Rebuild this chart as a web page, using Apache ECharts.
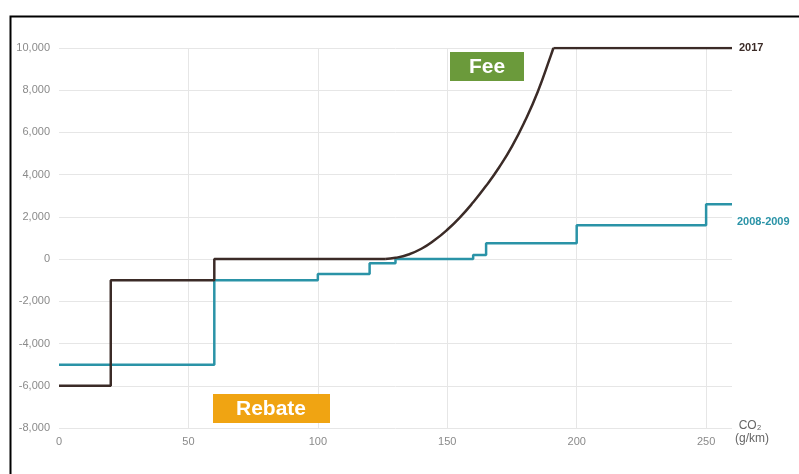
<!DOCTYPE html>
<html>
<head>
<meta charset="utf-8">
<script src="https://cdn.jsdelivr.net/npm/echarts@6/dist/echarts.min.js"></script>
<style>
html,body{margin:0;padding:0;background:#fff;}
#c{width:799px;height:474px;}
</style>
</head>
<body>
<div id="c"></div>
<script>
// Data (CO2 g/km -> fee/rebate)
const xTicks = [0, 50, 100, 150, 200, 250];
const yTicks = [-8000, -6000, -4000, -2000, 0, 2000, 4000, 6000, 8000, 10000];

const old2008X = [0, 60, 100, 120, 130, 160, 165, 200, 250, 260];
const old2008Y = [-5000, -1000, -700, -200, 0, 200, 750, 1600, 2600, 2600];

const steps2017X = [0, 20, 60, 126];
const steps2017Y = [-6000, -1000, 0, 0];

const curve2017X = [126, 130, 135, 140, 145, 150, 155, 160, 165, 170, 175, 180, 185, 190, 191];
const curve2017Y = [0, 60, 220, 490, 890, 1390, 1990, 2690, 3470, 4340, 5340, 6540, 7940, 9640, 10000];

const top2017X = [191, 260];
const top2017Y = [10000, 10000];

const seriesNames = ['2008-2009', '2017'];
const zoneLabels = ['Fee', 'Rebate'];

const zip = (xs, ys) => xs.map((x, i) => [x, ys[i]]);

const C2017 = '#3b2b27';
const C2008 = '#2a93a7';
const grey = '#8a8a8a';
const FONT = 'Liberation Sans, Arial, sans-serif';

const chart = echarts.init(document.getElementById('c'), null, {renderer: 'canvas'});
chart.setOption({
  backgroundColor: '#ffffff',
  animation: false,
  grid: {left: 59, right: 67, top: 48, bottom: 46},
  xAxis: {
    type: 'value', min: 0, max: 260, interval: 50,
    axisLine: {show: false}, axisTick: {show: false},
    splitLine: {show: false},
    axisLabel: {
      color: grey, fontSize: 11, fontFamily: FONT, margin: 8,
      formatter: v => xTicks.includes(v) ? String(v) : ''
    }
  },
  yAxis: {
    type: 'value', min: yTicks[0], max: yTicks[yTicks.length - 1], interval: 2000,
    axisLine: {show: false}, axisTick: {show: false},
    splitLine: {lineStyle: {color: '#e6e6e6', width: 1}},
    axisLabel: {
      color: grey, fontSize: 11, fontFamily: FONT, margin: 9,
      formatter: v => v.toLocaleString('en-US')
    }
  },
  series: [
    {
      name: 'grid', type: 'line', data: [], silent: true, z: 0,
      markLine: {
        silent: true, symbol: 'none', label: {show: false}, z: 0,
        lineStyle: {color: '#e6e6e6', width: 1, type: 'solid'},
        data: xTicks.filter(v => v > 0).map(v => ({xAxis: v}))
      }
    },
    {
      name: seriesNames[0], type: 'line', step: 'end', showSymbol: false,
      data: zip(old2008X, old2008Y),
      lineStyle: {color: C2008, width: 2.5}, itemStyle: {color: C2008},
      endLabel: {
        show: true, formatter: seriesNames[0], color: C2008, fontWeight: 'bold',
        fontSize: 11, fontFamily: FONT, distance: 5, offset: [0, 18]
      },
      z: 3
    },
    {
      name: seriesNames[1], type: 'line', step: 'end', showSymbol: false,
      data: zip(steps2017X, steps2017Y),
      lineStyle: {color: C2017, width: 2.5}, itemStyle: {color: C2017}, z: 4
    },
    {
      name: seriesNames[1] + ' curve', type: 'line', smooth: 0.5, showSymbol: false,
      data: zip(curve2017X, curve2017Y),
      lineStyle: {color: C2017, width: 2.5}, itemStyle: {color: C2017}, z: 4
    },
    {
      name: seriesNames[1] + ' top', type: 'line', showSymbol: false,
      data: zip(top2017X, top2017Y),
      lineStyle: {color: C2017, width: 2.5}, itemStyle: {color: C2017}, z: 4,
      endLabel: {
        show: true, formatter: seriesNames[1], color: C2017, fontWeight: 'bold',
        fontSize: 11, fontFamily: FONT, distance: 7
      }
    }
  ],
  graphic: [
    {type: 'rect', left: 8, top: 14, shape: {width: 800, height: 470},
     style: {fill: 'none', stroke: '#000', lineWidth: 2}, silent: true, z: 100},
    {type: 'rect', left: 450, top: 52, shape: {width: 74, height: 29}, style: {fill: '#6b9a3b'}, z: 50},
    {type: 'text', x: 487, y: 67,
     style: {text: zoneLabels[0], fill: '#fff', font: 'bold 21px ' + FONT, align: 'center', verticalAlign: 'middle'}, z: 51},
    {type: 'rect', left: 213, top: 394, shape: {width: 117, height: 29}, style: {fill: '#f0a412'}, z: 50},
    {type: 'text', x: 271, y: 409,
     style: {text: zoneLabels[1], fill: '#fff', font: 'bold 21px ' + FONT, align: 'center', verticalAlign: 'middle'}, z: 51},
    {type: 'text', x: 750, y: 426,
     style: {text: 'CO₂', fill: '#666', font: '12px ' + FONT, align: 'center', verticalAlign: 'middle'}},
    {type: 'text', x: 752, y: 439,
     style: {text: '(g/km)', fill: '#666', font: '12px ' + FONT, align: 'center', verticalAlign: 'middle'}}
  ]
});
</script>
</body>
</html>
